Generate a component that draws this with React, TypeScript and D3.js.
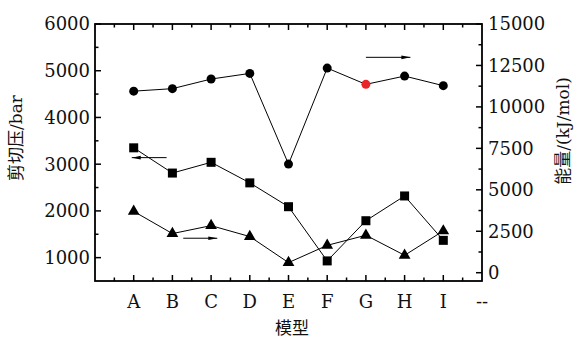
import React from 'react';
import * as d3 from 'd3';

const categories = ['A', 'B', 'C', 'D', 'E', 'F', 'G', 'H', 'I'];
const extraLabel = '--';

// shear pressure (left axis, squares)
const shearValues = [3350, 2810, 3040, 2600, 2090, 930, 1790, 2320, 1370];
// energy (right axis, circles and triangles)
const energyCircle = [10950, 11100, 11680, 12020, 6550, 12340, 11360, 11860, 11280];
const energyTriangle = [3700, 2360, 2840, 2180, 610, 1650, 2260, 1050, 2520];
const highlightIndex = 6;

const leftTicks = [1000, 2000, 3000, 4000, 5000, 6000];
const rightTicks = [0, 2500, 5000, 7500, 10000, 12500, 15000];

const W = 577;
const H = 338;
const margin = { top: 24, right: 95, bottom: 57, left: 95 };
const font = '"DejaVu Serif", serif';
const cjk = '"Noto Sans CJK SC", sans-serif';
const ink = '#111';

const App: React.FC = () => {
  const plotW = W - margin.left - margin.right;
  const plotH = H - margin.top - margin.bottom;

  const x = d3.scaleLinear().domain([0, categories.length + 1]).range([margin.left, margin.left + plotW]);
  const yL = d3.scaleLinear().domain([500, 6000]).range([margin.top + plotH, margin.top]);
  const yR = d3.scaleLinear().domain([-500, 15000]).range([margin.top + plotH, margin.top]);

  const idx = d3.range(categories.length);
  const line = (ys: number[], scale: d3.ScaleLinear<number, number>) =>
    d3.line<number>().x(i => x(i + 1)).y(i => scale(ys[i]))(idx) || '';

  const xMinor = d3.range(0.5, categories.length + 1, 1);
  const xMajor = d3.range(1, categories.length + 1, 1);
  const leftMinor = d3.range(1500, 6000, 1000);
  const rightMinor = d3.range(1250, 15000, 2500);

  const x0 = margin.left;
  const x1 = margin.left + plotW;
  const y0 = margin.top;
  const y1 = margin.top + plotH;

  const tri = d3.symbol(d3.symbolTriangle, 60)() || '';

  const arrow = (xa: number, xb: number, y: number, dir: 1 | -1) => {
    const tip = dir === 1 ? xb : xa;
    return (
      <g>
        <line x1={xa} x2={xb} y1={y} y2={y} stroke="#000" strokeWidth={1} />
        <path d={`M${tip},${y} L${tip - dir * 9},${y - 1.8} L${tip - dir * 9},${y + 1.8} Z`} fill="#000" />
      </g>
    );
  };

  return (
    <div style={{ position: 'fixed', left: 0, top: 0 }}>
      <svg width={W} height={H} style={{ display: 'block', background: '#fff' }}>
        {/* frame */}
        <rect x={x0} y={y0} width={plotW} height={plotH} fill="none" stroke="#000" strokeWidth={1.8} />

        {/* bottom / top ticks */}
        {xMajor.map(v => (
          <g key={'xm' + v}>
            <line x1={x(v)} x2={x(v)} y1={y1} y2={y1 - 6} stroke="#000" strokeWidth={1.5} />
            <line x1={x(v)} x2={x(v)} y1={y0} y2={y0 + 6} stroke="#000" strokeWidth={1.5} />
          </g>
        ))}
        {xMinor.map(v => (
          <g key={'xn' + v}>
            <line x1={x(v)} x2={x(v)} y1={y1} y2={y1 - 3.5} stroke="#000" strokeWidth={1.5} />
            <line x1={x(v)} x2={x(v)} y1={y0} y2={y0 + 3.5} stroke="#000" strokeWidth={1.5} />
          </g>
        ))}
        {categories.map((c, i) => (
          <text key={c} x={x(i + 1)} y={308} textAnchor="middle" fontFamily={font} fontSize={18} fill={ink}>{c}</text>
        ))}
        <text x={x(categories.length + 1)} y={308} textAnchor="middle" fontFamily={font} fontSize={18} fill={ink}>{extraLabel}</text>

        {/* left axis */}
        {leftTicks.map(v => (
          <g key={'l' + v}>
            <line x1={x0} x2={x0 + 6} y1={yL(v)} y2={yL(v)} stroke="#000" strokeWidth={1.5} />
            <text x={x0 - 5} y={yL(v)} dy="0.36em" textAnchor="end" fontFamily={font} fontSize={18} fill={ink}>{v}</text>
          </g>
        ))}
        {leftMinor.map(v => (
          <line key={'lm' + v} x1={x0} x2={x0 + 3.5} y1={yL(v)} y2={yL(v)} stroke="#000" strokeWidth={1.5} />
        ))}

        {/* right axis */}
        {rightTicks.map(v => (
          <g key={'r' + v}>
            <line x1={x1} x2={x1 - 6} y1={yR(v)} y2={yR(v)} stroke="#000" strokeWidth={1.5} />
            <text x={x1 + 6} y={yR(v)} dy="0.36em" textAnchor="start" fontFamily={font} fontSize={18} fill={ink}>{v}</text>
          </g>
        ))}
        {rightMinor.map(v => (
          <line key={'rm' + v} x1={x1} x2={x1 - 3.5} y1={yR(v)} y2={yR(v)} stroke="#000" strokeWidth={1.5} />
        ))}

        {/* axis titles */}
        <text transform={`translate(22,${138}) rotate(-90)`} textAnchor="middle" fontSize={17} fill={ink} style={{ WebkitFontSmoothing: 'antialiased' }}>
          <tspan fontFamily={cjk} fill={ink}>剪切压</tspan><tspan fontFamily={font} fill={ink}>/bar</tspan>
        </text>
        <text transform={`translate(569,${131}) rotate(-90)`} textAnchor="middle" fontSize={17} fill={ink} style={{ WebkitFontSmoothing: 'antialiased' }}>
          <tspan fontFamily={cjk} fill={ink}>能量</tspan><tspan fontFamily={font} fill={ink}>/(kJ/mol)</tspan>
        </text>
        <text x={292} y={334} textAnchor="middle" fontFamily={cjk} fontSize={17} fill={ink}>模型</text>

        {/* series lines */}
        <path d={line(energyCircle, yR)} fill="none" stroke="#000" strokeWidth={1} />
        <path d={line(shearValues, yL)} fill="none" stroke="#000" strokeWidth={1} />
        <path d={line(energyTriangle, yR)} fill="none" stroke="#000" strokeWidth={1} />

        {/* markers */}
        {energyCircle.map((v, i) => (
          <circle key={'c' + i} cx={x(i + 1)} cy={yR(v)} r={4.5} fill={i === highlightIndex ? '#e8262a' : '#000'} />
        ))}
        {shearValues.map((v, i) => (
          <rect key={'s' + i} x={x(i + 1) - 4.5} y={yL(v) - 4.5} width={9} height={9} fill="#000" />
        ))}
        {energyTriangle.map((v, i) => (
          <path key={'t' + i} d={tri} transform={`translate(${x(i + 1)},${yR(v)})`} fill="#000" />
        ))}

        {/* arrows pointing to the axis each series uses */}
        {arrow(x(0.95), x(1.85), yL(3140), -1)}
        {arrow(x(7.0), x(8.15), yR(12990), 1)}
        {arrow(x(2.28), x(3.16), yR(2080), 1)}
      </svg>
    </div>
  );
};

export default App;
